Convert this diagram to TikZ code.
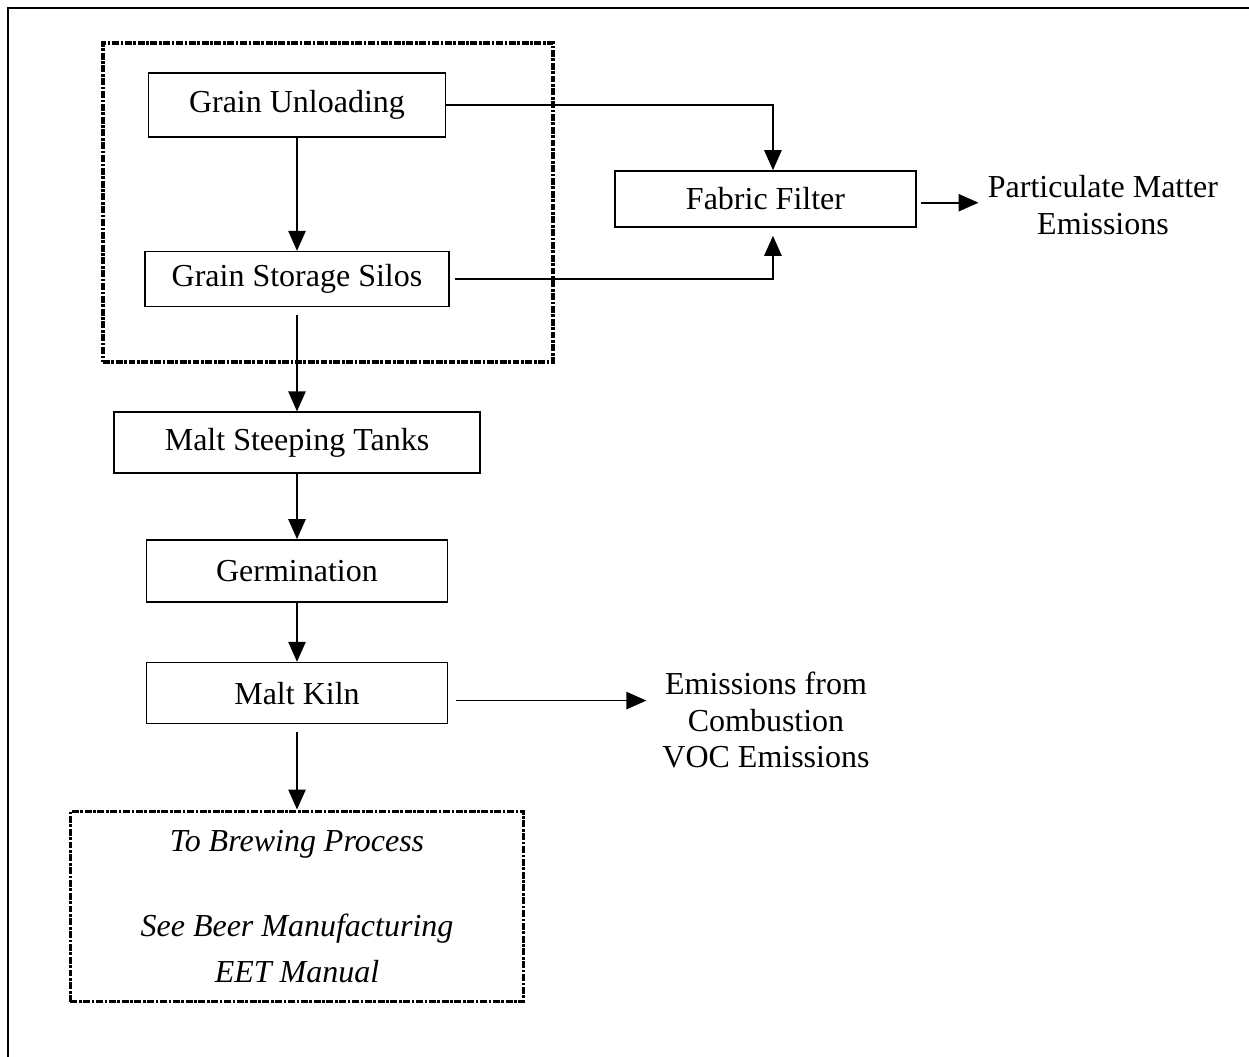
\documentclass[tikz,border=0pt]{standalone}
\usepackage{fontspec}
\setmainfont{Liberation Serif}
\usetikzlibrary{arrows.meta,positioning}
\tikzset{
  font=\fontsize{12}{13.8}\selectfont,
  box/.style={
    draw,
    line width=0.6pt,
    align=center,
    minimum width=112.9pt,
    minimum height=23pt,
    inner sep=2pt
  },
  group/.style={
    draw,
    line width=1.4pt,
    dash pattern=on 2.6pt off 0.6pt on 1pt off 0.6pt
  },
  note/.style={
    align=center
  },
  frame/.style={line width=0.75pt},
  arrow/.style={-{Triangle[length=7.5pt,width=6.5pt]}, line width=0.6pt}
}

\begin{document}
\begin{tikzpicture}[x=0.375pt,y=-0.375pt]
\useasboundingbox (0,0) rectangle (1249,1057);

\draw[frame] (8,1057) -- (8,8) -- (1249,8);

% grain intake group
\node[group, minimum width=168.8pt, minimum height=119.6pt] (intake) at (328,202.5) {};

% main column
\node[box, minimum width=111.4pt, minimum height=24pt] (unload) at (297,105) {Grain Unloading};
\node[box, below=42.4pt of unload, minimum width=114pt, minimum height=20.6pt] (silos) {Grain Storage Silos};
\node[box, below=39pt of silos, minimum width=137.3pt, minimum height=22.9pt] (steep) {Malt Steeping Tanks};
\node[box, below=24.4pt of steep, minimum height=23.3pt] (germ) {Germination};
\node[box, below=22.1pt of germ, minimum height=22.9pt] (kiln) {Malt Kiln};
\node[group, align=center, below=31.9pt of kiln, minimum width=169.9pt, minimum height=71.3pt,
  font=\fontsize{12}{17}\selectfont\itshape] (brew) {To Brewing Process\\[15pt]See Beer Manufacturing\\EET Manual};

% control and emissions
\node[box, minimum height=21pt] (filter) at (765.5,199) {Fabric Filter};
\node[note] (pm) at (1103,205) {Particulate Matter\\Emissions};
\node[note] (combust) at (766,720) {Emissions from\\Combustion\\VOC Emissions};

% connections
\draw[arrow] (unload) -- (silos);
\draw[arrow, shorten <=3pt] (silos) -- (steep);
\draw[arrow] (steep) -- (germ);
\draw[arrow] (germ) -- (kiln);
\draw[arrow, shorten <=3pt] (kiln) -- (brew);

\draw[arrow] (unload.east) -| ([xshift=2.8pt]filter.north);
\draw[arrow, shorten <=2pt, shorten >=3pt] (silos.east) -| ([xshift=2.8pt]filter.south);
\draw[arrow, shorten <=1.5pt] ([yshift=-1.4pt]filter.east) -- ([yshift=-1.4pt]filter.east -| pm.west);
\draw[arrow, shorten <=3pt, shorten >=2.5pt] ([yshift=-2.8pt]kiln.east) -- ([yshift=-2.8pt]kiln.east -| combust.west);

\end{tikzpicture}
\end{document}
